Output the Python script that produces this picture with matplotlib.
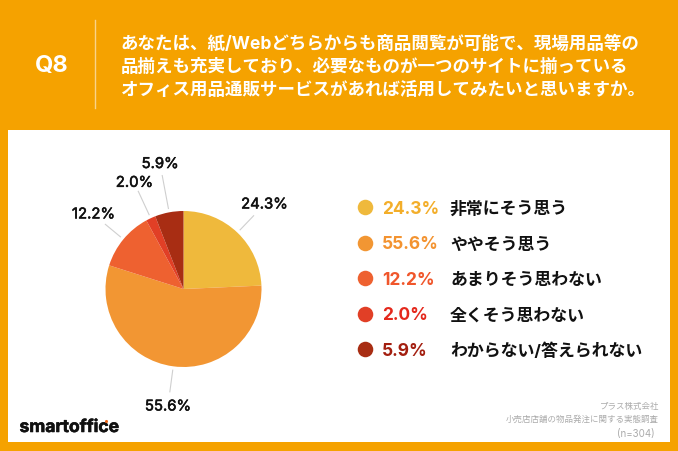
"""Q8 pie chart card."""

import numpy as np
from matplotlib import patheffects, pyplot as plt
from matplotlib.patches import Rectangle

plt.rcParams['font.family'] = ['Inter', 'Noto Sans CJK JP']

question = ['あなたは、紙/Webどちらからも商品閲覧が可能で、現場用品等の',
            '品揃えも充実しており、必要なものが一つのサイトに揃っている',
            'オフィス用品通販サービスがあれば活用してみたいと思いますか。']
answers = ['非常にそう思う', 'ややそう思う', 'あまりそう思わない', '全くそう思わない',
           'わからない/答えられない']
shares = [24.3, 55.6, 12.2, 2.0, 5.9]
wedge_colors = ['#EFB93C', '#F29633', '#EE6130', '#E13F26', '#A82D13']
text_colors = ['#F3AE2A', '#F39330', '#F0562B', '#E4281C', '#A31F10']
source = ['プラス株式会社', '小売店店舗の物品発注に関する実態調査', '(n=304)']

ORANGE = '#F5A200'

fig = plt.figure(figsize=(6.78, 4.52), dpi=100, facecolor=ORANGE)

# page axes, in pixels of the picture
page = fig.add_axes([0, 0, 1, 1])
page.set_xlim(0, 678)
page.set_ylim(452, 0)
page.axis('off')
page.add_patch(Rectangle((8, 131), 662, 312, facecolor='white', edgecolor='none'))

# header
page.plot([95, 95], [21, 109], color='#F9D38A', lw=1)
page.text(52, 72, 'Q8', color='white', fontsize=17, fontweight='bold',
          ha='center', va='baseline')
for i, line in enumerate(question):
    page.text(120.5, 49 + i * 23, line, color='white', fontsize=12.6,
              fontweight='bold', ha='left', va='baseline')

# pie
pie_ax = fig.add_axes([(183.5 - 78) / 678, 1 - (290 + 78) / 452, 156 / 678, 156 / 452])
wedges, _ = pie_ax.pie(shares, colors=wedge_colors, startangle=90, counterclock=False,
                       radius=1, wedgeprops={'linewidth': 0})
pie_ax.set_xlim(-1, 1)
pie_ax.set_ylim(-1, 1)

leader_end = [1.3, 1.33, 1.3, 1.38, 1.48]
label_dist = [1.5, 1.52, 1.5, 1.5, 1.63]
heavier = [patheffects.withStroke(linewidth=0.4, foreground='#111111')]
for wedge, share, r_line, r_text in zip(wedges, shares, leader_end, label_dist):
    angle = np.deg2rad((wedge.theta1 + wedge.theta2) / 2)
    ux, uy = np.cos(angle), np.sin(angle)
    pie_ax.plot([1.05 * ux, r_line * ux], [1.05 * uy, r_line * uy], color='#CFCFCF',
                lw=0.8, clip_on=False)
    pie_ax.text(r_text * ux, r_text * uy, f'{share:.1f}%', color='#111111', fontsize=10.7,
                ha='center', va='center', clip_on=False, path_effects=heavier)

# legend
for i, (answer, share, wcol, tcol) in enumerate(zip(answers, shares, wedge_colors, text_colors)):
    y = 208 + i * 35.5
    page.scatter([365], [y], s=125, color=wcol, linewidths=0)
    page.text(382, y + 6, f'{share:.1f}%', color=tcol, fontsize=12.5, fontweight='bold',
              ha='left', va='baseline')
    page.text(450, y + 6, answer, color='#111111', fontsize=12.2, fontweight='bold',
              ha='left', va='baseline')

# logo and source
page.text(19.5, 433, 'smartoffice', color='#111111', fontsize=12.6, fontweight='bold',
          ha='left', va='baseline', path_effects=heavier)
page.scatter([106], [422], s=5, color='#EE6A1E', linewidths=0, zorder=5)
for line, y, x, size in zip(source, [407, 420, 435], [659, 659, 655], [6.1, 6.1, 7]):
    page.text(x, y + 2, line, color='#ABABAB', fontsize=size, ha='right', va='baseline')

fig.savefig('out.png', dpi=100, facecolor=ORANGE)
